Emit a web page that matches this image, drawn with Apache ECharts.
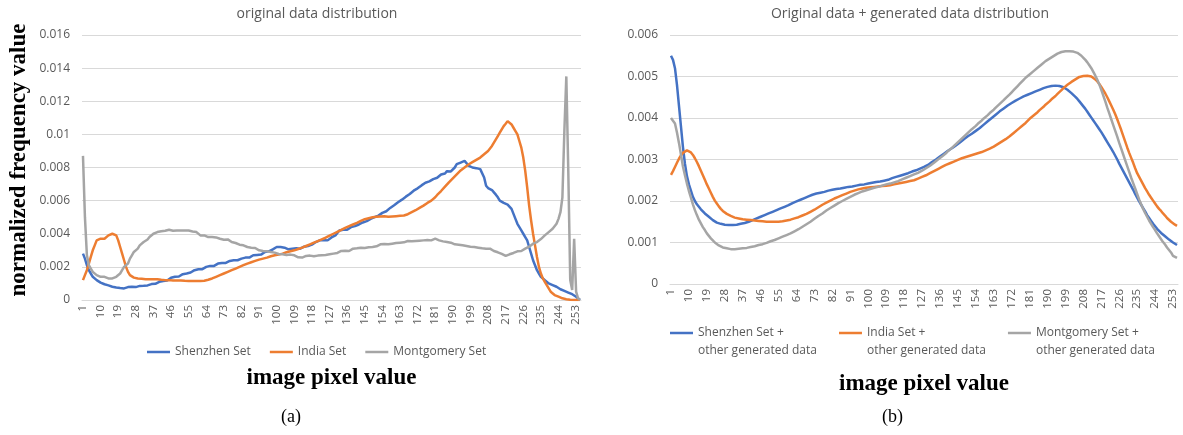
<!DOCTYPE html>
<html>
<head>
<meta charset="utf-8">
<script src="https://cdn.jsdelivr.net/npm/echarts@6/dist/echarts.min.js"></script>
<style>
html,body{margin:0;padding:0;background:#fff;}
#c{width:1183px;height:435px;}
</style>
</head>
<body>
<div id="c"></div>
<script>
// pixel value categories 1..255
const pixelValues = Array.from({length: 255}, (_, i) => String(i + 1));

const yTicksLeft = [0, 0.002, 0.004, 0.006, 0.008, 0.01, 0.012, 0.014, 0.016];
const yTicksRight = [0, 0.001, 0.002, 0.003, 0.004, 0.005, 0.006];

const leftTitle = 'original data distribution';
const rightTitle = 'Original data + generated data distribution';
const leftNames = ['Shenzhen Set', 'India Set', 'Montgomery Set'];
const rightNames = ['Shenzhen Set +\nother generated data', 'India Set +\nother generated data', 'Montgomery Set +\nother generated data'];
const yName = 'normalized frequency value';
const xName = 'image pixel value';

// (a) original data distribution
const shenzhenOrig = [
.0028,.0025,.0021,.0018,.0016,.0014,.0013,.0012,.0011,.00105,
.001,.00095,.0009,.00088,.00085,.0008,.00078,.00075,.0007,.00072,
.00075,.0007,.00074,.00078,.00075,.0008,.00082,.00078,.0008,.00085,
.00082,.00086,.0009,.00088,.00092,.00096,.001,.00098,.00104,.0011,
.00108,.00115,.0012,.00118,.00126,.00134,.0013,.0014,.00146,.00142,
.0015,.00156,.00152,.0016,.0017,.00166,.00174,.0018,.00176,.00186,
.0019,.00186,.00196,.002,.00198,.00206,.0021,.00206,.00214,.0022,
.00216,.00224,.00228,.00224,.00232,.00236,.00232,.0024,.00244,.0024,
.00248,.0025,.00246,.00256,.0026,.00256,.00264,.0027,.00266,.00272,
.00278,.00274,.00282,.0029,.00286,.00294,.003,.00306,.0031,.0032,
.00316,.0032,.00312,.00316,.0031,.00306,.00312,.0031,.00306,.00312,
.00316,.0031,.00318,.00322,.0032,.00326,.0033,.00334,.0034,.0035,
.00356,.0036,.00354,.00362,.00366,.0036,.0037,.00378,.00384,.0039,
.004,.0042,.00416,.00424,.0043,.00424,.00432,.0044,.00436,.00446,
.0045,.00456,.0046,.00468,.0047,.00476,.00484,.0049,.00486,.005,
.00504,.0051,.00516,.00526,.0053,.00536,.00548,.00556,.0056,.00572,
.00578,.0059,.006,.00606,.00618,.00624,.00632,.0064,.00646,.0066,
.00668,.00674,.0068,.00692,.007,.00708,.0072,.00716,.0072,.0073,
.00742,.00738,.0075,.00758,.0077,.00764,.00778,.0078,.00776,.00788,
.008,.0082,.00816,.0083,.0082,.0084,.00832,.00812,.0081,.008,
.008,.00796,.00792,.0079,.00784,.0074,.0069,.00676,.0067,.00664,
.0065,.00636,.0062,.006,.00594,.00586,.0058,.00576,.0057,.0055,
.0052,.0049,.0046,.0044,.0042,.004,.0038,.0036,.0032,.0028,
.0024,.0021,.0018,.0016,.0014,.0013,.0012,.0011,.001,.00095,
.0009,.00085,.0008,.0007,.00065,.0006,.00055,.0005,.00045,.0004,
.00035,.0003,.0002,.0001,0
];
const indiaOrig = [
.0012,.0015,.0018,.0022,.0026,.003,.0033,.0036,.0037,.0037,
.0037,.0037,.0038,.0039,.004,.004,.004,.0039,.0036,.0032,
.0028,.0024,.002,.0017,.0015,.0014,.00135,.0013,.0013,.00128,
.00128,.00126,.00125,.00128,.00125,.00124,.00126,.00122,.00125,.00124,
.00122,.00125,.0012,.00123,.0012,.00122,.00118,.0012,.00118,.00115,
.00118,.00115,.00116,.00113,.00115,.00112,.00114,.00112,.00115,.00113,
.00115,.00118,.00116,.0012,.00122,.00126,.0013,.00134,.0014,.00146,
.0015,.00156,.0016,.00166,.0017,.00176,.0018,.00186,.0019,.00196,
.002,.00206,.0021,.00214,.0022,.00224,.00228,.00232,.00236,.0024,
.00244,.00248,.0025,.00254,.00256,.0026,.00264,.00266,.0027,.00272,
.00274,.00278,.0028,.00284,.00288,.0029,.00294,.00296,.003,.00304,
.00308,.0031,.00316,.0032,.00326,.0033,.00336,.0034,.00346,.0035,
.00356,.0036,.00366,.0037,.00376,.00382,.00388,.00394,.004,.00406,
.00412,.00418,.00424,.0043,.00436,.0044,.00446,.0045,.00456,.0046,
.00466,.0047,.00478,.00482,.00488,.0049,.00494,.00496,.005,.005,
.00502,.005,.00504,.00502,.00506,.00504,.00502,.00506,.00504,.00508,
.00506,.0051,.00508,.00512,.0051,.00514,.00518,.00522,.0053,.00536,
.00542,.0055,.00556,.00564,.0057,.0058,.00586,.00594,.006,.00612,
.0062,.00634,.00646,.00658,.0067,.00684,.00696,.0071,.00722,.00734,
.00746,.00758,.0077,.00782,.0079,.008,.0081,.00818,.00824,.00832,
.0084,.00846,.00854,.0086,.0087,.0088,.0089,.009,.0091,.0093,
.0095,.0097,.0099,.0101,.0103,.0105,.01064,.0108,.0107,.0106,
.0104,.0102,.01,.0096,.0092,.0086,.0078,.0068,.0057,.0048,
.004,.0033,.0026,.002,.0016,.0013,.0011,.0009,.0007,.0005,
.0004,.0003,.00025,.0002,.00015,.0001,.00008,.00005,.00003,.00002,
.00001,0,0,0,0
];
const montgomeryOrig = [
.0087,.005,.0027,.0021,.0019,.0017,.0016,.0015,.0015,.0014,
.00145,.0014,.00135,.0013,.00136,.0013,.00134,.0014,.0015,.0016,
.0018,.002,.0021,.0022,.0025,.0027,.0029,.003,.0031,.0033,
.0034,.0035,.0036,.00365,.0038,.0039,.004,.00396,.0041,.0041,
.00415,.0042,.00418,.0042,.00424,.0042,.00418,.00422,.0042,.00424,
.0042,.00416,.0042,.00414,.0042,.0041,.00414,.00404,.0041,.004,
.0039,.00396,.0039,.00394,.0038,.00386,.0038,.00384,.00378,.00376,
.0037,.00374,.00364,.0036,.00366,.00356,.0035,.00354,.00344,.0034,
.00334,.0034,.0033,.00324,.0032,.00326,.00316,.0031,.00314,.00306,
.003,.00304,.00296,.0029,.00294,.00288,.0029,.00282,.00286,.0028,
.00278,.00284,.00276,.0028,.00272,.00268,.00274,.00266,.0027,.00262,
.00258,.00264,.00256,.0026,.00266,.0026,.00268,.0027,.00264,.00272,
.00268,.00274,.0027,.00278,.00272,.0028,.00276,.00284,.0028,.00288,
.00284,.0029,.00296,.0029,.00298,.00302,.00296,.00304,.0031,.00306,
.00312,.00308,.00316,.0032,.00314,.00322,.00318,.00326,.0032,.0033,
.00324,.00332,.00336,.0033,.00338,.00342,.00336,.00344,.0034,.00348,
.00344,.0035,.00346,.00354,.00348,.00352,.00356,.0035,.00354,.00348,
.00356,.0035,.00358,.00352,.0036,.00354,.00362,.00356,.0036,.00366,
.0037,.0038,.0036,.0035,.00354,.00346,.0035,.00342,.00346,.0034,
.00336,.0034,.00334,.00338,.0033,.00334,.00326,.0033,.00322,.00326,
.0032,.00324,.00316,.0032,.00312,.00316,.0031,.00306,.0031,.003,
.00296,.00292,.00288,.00282,.00278,.0027,.00266,.0027,.00276,.0028,
.00284,.0029,.00294,.003,.00296,.00304,.0031,.00316,.00322,.0033,
.0034,.00346,.0035,.0036,.00368,.0038,.0039,.004,.0041,.0042,
.0043,.0044,.0046,.0049,.0053,.0062,.0102,.0135,.0078,.0012,
.0006,.0037,.0005,.0001,0
];

// (b) original + generated data distribution
const shenzhenGen = [
.0055,.0054,.0052,.0048,.0043,.0038,.0033,.0029,.0026,.0024,
.00225,.0021,.002,.00192,.00186,.0018,.00175,.0017,.00166,.00162,
.00158,.00154,.0015,.00148,.00146,.00145,.00144,.00143,.00142,.00142,
.00142,.00142,.00143,.00143,.00144,.00145,.00146,.00147,.00149,.0015,
.00152,.00154,.00156,.00158,.0016,.00162,.00164,.00166,.00168,.0017,
.00172,.00174,.00176,.00178,.0018,.00182,.00184,.00186,.00188,.0019,
.00193,.00195,.00197,.00199,.00201,.00203,.00205,.00207,.00209,.00211,
.00213,.00215,.00216,.00218,.00219,.0022,.00221,.00222,.00223,.00225,
.00226,.00227,.00228,.00229,.0023,.0023,.00231,.00232,.00233,.00234,
.00235,.00235,.00236,.00237,.00238,.00239,.0024,.0024,.00241,.00242,
.00243,.00244,.00245,.00246,.00246,.00247,.00248,.00249,.0025,.00251,
.00253,.00255,.00256,.00258,.0026,.00261,.00263,.00264,.00266,.00267,
.00269,.00271,.00272,.00274,.00276,.00278,.0028,.00282,.00284,.00287,
.0029,.00294,.00297,.003,.00304,.00307,.0031,.00314,.00317,.00321,
.00324,.00327,.00331,.00334,.00338,.00341,.00345,.00349,.00352,.00356,
.00359,.00362,.00366,.00369,.00373,.00376,.0038,.00384,.00388,.00392,
.00396,.004,.00404,.00408,.00412,.00416,.00419,.00423,.00426,.0043,
.00433,.00436,.0044,.00442,.00445,.00447,.0045,.00452,.00454,.00456,
.00458,.0046,.00462,.00464,.00466,.00468,.0047,.00472,.00474,.00475,
.00476,.00477,.00478,.00478,.00478,.00477,.00476,.00474,.00471,.00468,
.00464,.0046,.00456,.00451,.00446,.0044,.00434,.00428,.00422,.00415,
.00408,.00401,.00394,.00387,.0038,.00373,.00366,.00358,.0035,.00342,
.00334,.00326,.00318,.00309,.003,.0029,.00281,.00272,.00263,.00254,
.00245,.00236,.00227,.00217,.00208,.00199,.00191,.00183,.00175,.00166,
.00159,.00152,.00145,.00139,.00133,.00128,.00123,.00119,.00115,.00111,
.00107,.00103,.001,.00097,.00094
];
const indiaGen = [
.00263,.00272,.00282,.00292,.00302,.0031,.00316,.0032,.00322,.00321,
.00317,.00311,.00303,.00294,.00284,.00273,.00262,.00251,.0024,.0023,
.0022,.0021,.00201,.00194,.00187,.00181,.00176,.00172,.00169,.00166,
.00164,.00162,.0016,.00159,.00158,.00157,.00156,.00155,.00155,.00154,
.00154,.00153,.00153,.00152,.00152,.00151,.00151,.0015,.0015,.0015,
.0015,.0015,.0015,.0015,.0015,.00151,.00151,.00152,.00153,.00154,
.00155,.00156,.00158,.00159,.00161,.00163,.00165,.00167,.00169,.00172,
.00174,.00177,.00179,.00182,.00185,.00188,.00191,.00193,.00196,.00199,
.00201,.00204,.00206,.00208,.0021,.00212,.00214,.00216,.00218,.0022,
.00222,.00223,.00225,.00226,.00228,.00229,.0023,.00231,.00232,.00233,
.00233,.00234,.00234,.00235,.00235,.00235,.00236,.00236,.00237,.00237,
.00238,.00239,.0024,.00241,.00242,.00243,.00244,.00245,.00246,.00247,
.00248,.00249,.0025,.00252,.00254,.00256,.00258,.0026,.00262,.00264,
.00267,.00269,.00272,.00274,.00277,.00279,.00282,.00284,.00287,.00289,
.00291,.00293,.00295,.00297,.00299,.00301,.00303,.00305,.00306,.00308,
.00309,.00311,.00312,.00313,.00315,.00316,.00318,.0032,.00322,.00324,
.00326,.00328,.00331,.00334,.00337,.0034,.00343,.00346,.00349,.00353,
.00356,.0036,.00364,.00368,.00372,.00376,.0038,.00384,.00388,.00393,
.00398,.00402,.00406,.0041,.00414,.00419,.00423,.00427,.00432,.00436,
.0044,.00445,.00449,.00453,.00458,.00462,.00467,.00472,.00476,.0048,
.00483,.00487,.0049,.00493,.00496,.00499,.005,.00501,.00502,.00502,
.00502,.005,.00497,.00493,.00488,.00482,.00475,.00467,.00459,.0045,
.0044,.0043,.0042,.00409,.00397,.00384,.00371,.00357,.00343,.00329,
.00316,.00304,.00292,.00279,.00267,.00258,.00249,.0024,.00231,.00223,
.00215,.00208,.00201,.00194,.00187,.00181,.00176,.0017,.00165,.00159,
.00155,.0015,.00146,.00143,.0014
];
const montgomeryGen = [
.004,.00398,.00387,.00365,.0034,.00312,.00283,.00262,.00242,.00224,
.00208,.00192,.00178,.00166,.00155,.00146,.00137,.0013,.00122,.00116,
.0011,.00105,.001,.00096,.00093,.0009,.00088,.00087,.00086,.00085,
.00084,.00084,.00084,.00084,.00085,.00085,.00086,.00086,.00087,.00088,
.00089,.0009,.00091,.00092,.00094,.00095,.00096,.00098,.00099,.00101,
.00103,.00104,.00106,.00108,.0011,.00112,.00114,.00116,.00118,.0012,
.00122,.00125,.00127,.0013,.00132,.00135,.00138,.00141,.00144,.00147,
.0015,.00154,.00157,.0016,.00164,.00167,.0017,.00173,.00177,.0018,
.00183,.00186,.00189,.00192,.00195,.00198,.002,.00203,.00205,.00208,
.0021,.00212,.00215,.00217,.00219,.00221,.00223,.00225,.00226,.00228,
.00229,.0023,.00232,.00233,.00234,.00236,.00237,.00238,.0024,.00241,
.00242,.00244,.00245,.00247,.00248,.0025,.00252,.00254,.00256,.00258,
.0026,.00262,.00264,.00266,.00268,.00271,.00273,.00276,.00279,.00282,
.00285,.00289,.00292,.00296,.003,.00303,.00307,.00311,.00315,.0032,
.00324,.00328,.00332,.00337,.00341,.00346,.0035,.00355,.00359,.00364,
.00368,.00373,.00377,.00381,.00386,.0039,.00394,.00399,.00403,.00407,
.00412,.00416,.0042,.00425,.00429,.00434,.00438,.00443,.00448,.00452,
.00457,.00462,.00467,.00472,.00477,.00482,.00487,.00492,.00497,.00501,
.00505,.00509,.00513,.00517,.00521,.00525,.00529,.00533,.00537,.0054,
.00543,.00546,.00549,.00552,.00555,.00557,.00559,.0056,.00561,.00561,
.00561,.00561,.0056,.00559,.00557,.00554,.0055,.00545,.0054,.00534,
.00527,.0052,.00511,.00502,.00492,.00481,.00468,.00454,.0044,.00425,
.00411,.00397,.00383,.00369,.00355,.0034,.00326,.00312,.00298,.00284,
.0027,.00256,.00243,.0023,.00217,.00204,.00192,.00181,.00171,.00162,
.00153,.00145,.00137,.0013,.00122,.00115,.00108,.00101,.00095,.00088,
.00082,.00076,.00068,.00064,.00063
];

const colors = ['#4472C4', '#ED7D31', '#A5A5A5'];
const labelColor = '#595959';
const gridColor = '#D9D9D9';
const uiFont = 'Open Sans';
const serifFont = 'Liberation Serif';

function xAxis(gridIndex, gap) {
  return {
    type: 'category', gridIndex, data: pixelValues, boundaryGap: true,
    axisLine: {lineStyle: {color: gridColor, width: 1}},
    axisTick: {show: false},
    axisLabel: {interval: 8, rotate: 90, color: labelColor, fontFamily: uiFont, fontSize: 11.5, margin: 5},
    splitLine: {show: false},
    name: xName, nameLocation: 'middle', nameGap: gap,
    nameTextStyle: {fontFamily: serifFont, fontWeight: 'bold', fontSize: 23, color: '#000'}
  };
}
function yAxis(gridIndex, ticks) {
  return {
    type: 'value', gridIndex, min: ticks[0], max: ticks[ticks.length - 1], interval: ticks[1] - ticks[0],
    axisLine: {show: false}, axisTick: {show: false},
    axisLabel: {color: labelColor, fontFamily: uiFont, fontSize: 12, margin: 12,
      formatter: v => String(+v.toFixed(4))},
    splitLine: {lineStyle: {color: gridColor, width: 1}}
  };
}
function line(name, data, i, xi) {
  return {
    name, type: 'line', data, xAxisIndex: xi, yAxisIndex: xi,
    showSymbol: false, symbol: 'none', smooth: false,
    lineStyle: {color: colors[i], width: 2.5}, itemStyle: {color: colors[i]},
    emphasis: {disabled: true}, animation: false
  };
}

const chart = echarts.init(document.getElementById('c'), null, {renderer: 'canvas'});
chart.setOption({
  animation: false,
  backgroundColor: '#fff',
  title: [
    {text: leftTitle, left: 312, top: 2, textAlign: 'center',
     textStyle: {fontFamily: uiFont, fontSize: 14, fontWeight: 'normal', color: labelColor}},
    {text: rightTitle, left: 905, top: 2, textAlign: 'center',
     textStyle: {fontFamily: uiFont, fontSize: 14, fontWeight: 'normal', color: labelColor}}
  ],
  legend: [
    {data: leftNames, left: 142, top: 341, icon: 'rect', itemWidth: 23, itemHeight: 2.5, itemGap: 19,
     textStyle: {fontFamily: uiFont, fontSize: 12, color: labelColor}, selectedMode: false},
    {data: rightNames, left: 665, top: 301, icon: 'rect', itemWidth: 23, itemHeight: 2.5, itemGap: 22,
     formatter: n => '\n' + n,
     textStyle: {fontFamily: uiFont, fontSize: 12, color: labelColor, lineHeight: 18},
     selectedMode: false}
  ],
  grid: [
    {left: 82, right: 602, top: 35, bottom: 135, containLabel: false},
    {left: 670, right: 5, top: 35, bottom: 151, containLabel: false}
  ],
  xAxis: [xAxis(0, 67), xAxis(1, 89)],
  yAxis: [yAxis(0, yTicksLeft), yAxis(1, yTicksRight)],
  series: [
    line(leftNames[0], shenzhenOrig, 0, 0),
    line(leftNames[1], indiaOrig, 1, 0),
    line(leftNames[2], montgomeryOrig, 2, 0),
    line(rightNames[0], shenzhenGen, 0, 1),
    line(rightNames[1], indiaGen, 1, 1),
    line(rightNames[2], montgomeryGen, 2, 1)
  ],
  graphic: [
    {type: 'text', x: 19, y: 160, rotation: Math.PI / 2,
     style: {text: yName, fontFamily: serifFont, fontWeight: 'bold', fontSize: 23, fill: '#000',
             align: 'center', verticalAlign: 'middle'}},
    {type: 'text', left: 281, top: 408, style: {text: '(a)', fontFamily: serifFont, fontSize: 18, fill: '#000'}},
    {type: 'text', left: 882, top: 408, style: {text: '(b)', fontFamily: serifFont, fontSize: 18, fill: '#000'}}
  ]
});
</script>
</body>
</html>
